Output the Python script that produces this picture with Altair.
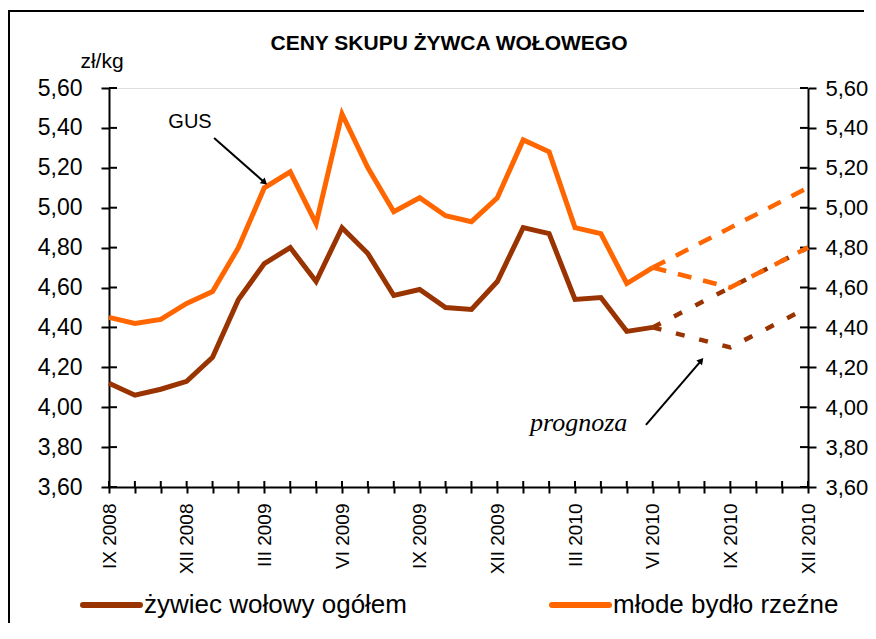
import json
import altair as alt
import pandas as pd

# ---------------- data ----------------
MONTHS = ["IX 2008", "X 2008", "XI 2008", "XII 2008", "I 2009", "II 2009", "III 2009",
          "IV 2009", "V 2009", "VI 2009", "VII 2009", "VIII 2009", "IX 2009", "X 2009",
          "XI 2009", "XII 2009", "I 2010", "II 2010", "III 2010", "IV 2010", "V 2010",
          "VI 2010", "VII 2010", "VIII 2010", "IX 2010", "X 2010", "XI 2010", "XII 2010"]
TICK_LABELS = [m if k % 3 == 0 else "" for k, m in enumerate(MONTHS)]

ZYWIEC = [4.12, 4.06, 4.09, 4.13, 4.25, 4.54, 4.72, 4.80, 4.63, 4.90, 4.77, 4.56,
          4.59, 4.50, 4.49, 4.63, 4.90, 4.87, 4.54, 4.55, 4.38, 4.40]
MLODE = [4.45, 4.42, 4.44, 4.52, 4.58, 4.80, 5.10, 5.18, 4.92, 5.47, 5.20, 4.98,
         5.05, 4.96, 4.93, 5.05, 5.34, 5.28, 4.90, 4.87, 4.62, 4.70]

FC_MONTHS = ["VI 2010", "IX 2010", "XII 2010"]
ZYW_HI = [4.40, 4.60, 4.80]
ZYW_LO = [4.40, 4.30, 4.50]
ML_HI = [4.70, 4.90, 5.10]
ML_LO = [4.70, 4.60, 4.80]

Y_TICKS = [3.6, 3.8, 4.0, 4.2, 4.4, 4.6, 4.8, 5.0, 5.2, 5.4, 5.6]

SERIES = ["żywiec wołowy ogółem", "młode bydło rzeźne"]
COLORS = ["#993300", "#FF6600"]

TITLE = "CENY SKUPU ŻYWCA WOŁOWEGO"
UNIT = "zł/kg"

# ---------------- layout ----------------
W, H = 699, 399
FONT = "Liberation Sans"

actual = pd.DataFrame(
    [{"i": k, "v": v, "s": SERIES[0]} for k, v in enumerate(ZYWIEC)]
    + [{"i": k, "v": v, "s": SERIES[1]} for k, v in enumerate(MLODE)]
)

def fc_rows(vals, s, name):
    return [{"i": MONTHS.index(m), "v": v, "s": s, "line": name} for m, v in zip(FC_MONTHS, vals)]

fc_brown = pd.DataFrame(fc_rows(ZYW_HI, SERIES[0], "hi") + fc_rows(ZYW_LO, SERIES[0], "lo"))
fc_orange = pd.DataFrame(fc_rows(ML_HI, SERIES[1], "hi") + fc_rows(ML_LO, SERIES[1], "lo"))

xs = alt.Scale(domain=[0, 27], nice=False, zero=False)
ys = alt.Scale(domain=[3.6, 5.6], nice=False, zero=False)

y_label_expr = "replace(format(datum.value, '.2f'), '.', ',')"

x_axis = alt.Axis(values=list(range(28)), labelExpr=json.dumps(TICK_LABELS) + "[datum.value]",
                  labelAngle=-90, labelPadding=10, tickSize=6, labelFontSize=19,
                  labelFlush=False, labelOverlap=False, grid=False, title=None,
                  domainColor="black", tickColor="black", domainWidth=2, tickWidth=2,
                  labelColor="black", labelFont=FONT)
yl_axis = alt.Axis(values=Y_TICKS, labelExpr=y_label_expr, orient="left", tickSize=8,
                   labelPadding=19, labelFontSize=23, grid=False, title=None,
                   domainColor="black", tickColor="black", domainWidth=2, tickWidth=2,
                   labelColor="black", labelFont=FONT, labelFlush=False, labelOverlap=False)
yr_axis = alt.Axis(values=Y_TICKS, labelExpr=y_label_expr, orient="right", tickSize=8,
                   labelPadding=9, labelFontSize=22, grid=False, title=None,
                   domainColor="black", tickColor="black", domainWidth=2, tickWidth=2,
                   labelColor="black", labelFont=FONT, labelFlush=False, labelOverlap=False)


def X(field):
    return alt.X(field, type="quantitative", scale=xs, axis=x_axis)


def Y(field, axis=None):
    return alt.Y(field, type="quantitative", scale=ys, axis=axis)


color = alt.Color("s:N", scale=alt.Scale(domain=SERIES, range=COLORS), legend=None)

brown_line = alt.Chart(actual[actual.s == SERIES[0]]).mark_line(strokeWidth=5).encode(
    x=X("i"), y=Y("v", yl_axis), color=color)
orange_line = alt.Chart(actual[actual.s == SERIES[1]]).mark_line(strokeWidth=5).encode(
    x=X("i"), y=Y("v", yr_axis), color=color)
brown_fc = alt.Chart(fc_brown).mark_line(strokeWidth=4.5, strokeDash=[9, 15]).encode(
    x=X("i"), y=Y("v"), color=color, detail="line:N")
orange_fc = alt.Chart(fc_orange).mark_line(strokeWidth=4.5, strokeDash=[14, 12]).encode(
    x=X("i"), y=Y("v"), color=color, detail="line:N")

# inner halves of the crossing tick marks
yt = pd.DataFrame({"v": Y_TICKS})
xt = pd.DataFrame({"i": list(range(28))})
tick_left = alt.Chart(yt).mark_rule(color="black", strokeWidth=2).encode(
    x=alt.value(0), x2=alt.value(8), y=Y("v"))
tick_right = alt.Chart(yt).mark_rule(color="black", strokeWidth=2).encode(
    x=alt.value(W - 8), x2=alt.value(W), y=Y("v"))
tick_bottom = alt.Chart(xt).mark_rule(color="black", strokeWidth=2).encode(
    x=X("i"), y=alt.value(H - 6), y2=alt.value(H))


# annotations (in data coordinates)
def arrow(x0, y0, x1, y1, angle):
    d = pd.DataFrame({"i": [x0], "v": [y0], "i2": [x1], "v2": [y1]})
    line = alt.Chart(d).mark_rule(color="black", strokeWidth=2).encode(
        x=X("i"), y=Y("v"), x2="i2:Q", y2="v2:Q")
    head = alt.Chart(d).mark_point(shape="triangle", filled=True, color="black", size=55,
                                   angle=angle, opacity=1).encode(x=X("i2"), y=Y("v2"))
    return [line, head]


def label(txt, x, y, **kw):
    d = pd.DataFrame({"t": [txt], "i": [x], "v": [y]})
    return alt.Chart(d).mark_text(**kw).encode(x=X("i"), y=Y("v"), text="t:N")


gus = label("GUS", 3.13, 5.40, font=FONT, fontSize=20, color="black", baseline="alphabetic")
gus_arrow = arrow(4.06, 5.349, 5.98, 5.13, 131)
prog = label("prognoza", 18.14, 3.882, font="Liberation Serif", fontSize=26, fontStyle="italic",
             color="black", baseline="alphabetic")
prog_arrow = arrow(20.74, 3.911, 22.85, 4.23, 40)


# decorations in pixels
def ptext(txt, x, y, **kw):
    return alt.Chart(pd.DataFrame({"t": [txt]})).mark_text(**kw).encode(
        x=alt.value(x), y=alt.value(y), text="t:N")


title = ptext(TITLE, 340, -38, font=FONT, fontSize=21, fontWeight="bold", color="black",
              baseline="alphabetic")
unit = ptext(UNIT, -7, -20, font=FONT, fontSize=21, color="black", baseline="alphabetic")

legend_layers = []
LEG_X = [-26, 443]
for name, col, lx in zip(SERIES, COLORS, LEG_X):
    sw = alt.Chart(pd.DataFrame({"t": [name]})).mark_rule(
        color=col, strokeWidth=6, strokeCap="round").encode(
        x=alt.value(lx), x2=alt.value(lx + 57), y=alt.value(517))
    tx = ptext(name, lx + 61, 525, font=FONT, fontSize=26, color="black", align="left",
               baseline="alphabetic")
    legend_layers += [sw, tx]

# outer frame of the chart (only top and left edges are inside the picture), as thin bars
frame_one = pd.DataFrame({"t": [0]})
frame_top = alt.Chart(frame_one).mark_rect(color="black", strokeWidth=0).encode(
    x=alt.value(-101), x2=alt.value(755), y=alt.value(-78), y2=alt.value(-76))
frame_left = alt.Chart(frame_one).mark_rect(color="black", strokeWidth=0).encode(
    x=alt.value(-101), x2=alt.value(-99), y=alt.value(-78), y2=alt.value(535))

chart = alt.layer(
    frame_top, frame_left, tick_left, tick_right, tick_bottom,
    brown_line, orange_line, brown_fc, orange_fc,
    gus, *gus_arrow, prog, *prog_arrow, title, unit, *legend_layers,
).resolve_axis(y="independent").properties(
    width=W, height=H,
    autosize=alt.AutoSizeParams(type="none"),
    padding={"left": 101, "top": 80, "right": 60, "bottom": 136},
).configure_view(stroke=None).configure(background="white")

chart.save("out.html", embed_options={"renderer": "svg", "actions": False})
